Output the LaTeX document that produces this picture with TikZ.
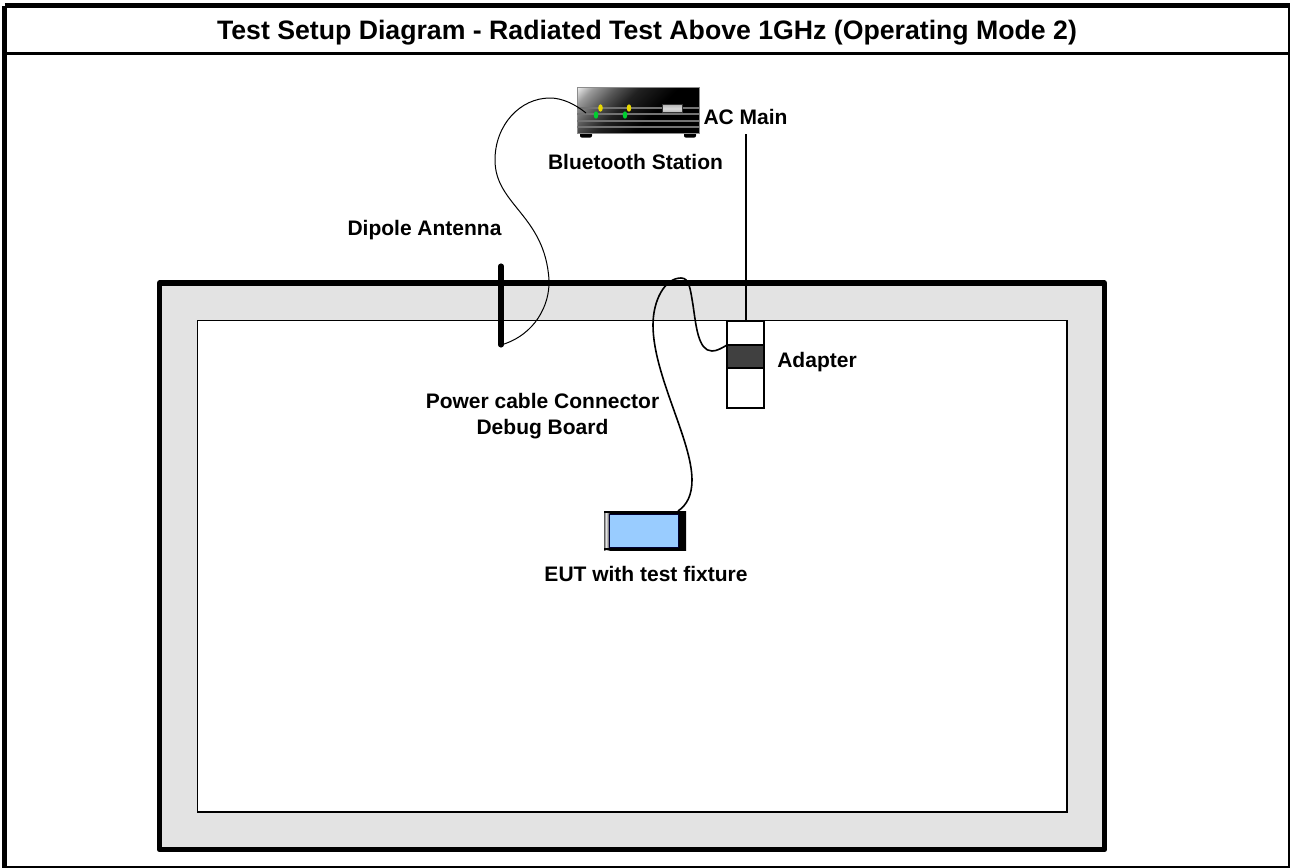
\documentclass[tikz,border=0pt]{standalone}
\usepackage{fontspec}
\setmainfont{Liberation Sans}
\usetikzlibrary{shapes.geometric}
\pgfdeclarehorizontalshading{stationsh}{100bp}{color(0bp)=(white); color(14bp)=(black!3); color(22bp)=(black!40); color(32bp)=(black!67); color(41.6bp)=(black!87); color(58bp)=(black); color(100bp)=(black)}
\pgfdeclarehorizontalshading{eutsh}{100bp}{color(0bp)=(black!65); color(25bp)=(black!65); color(26.2bp)=(black!10); color(27.2bp)=(black!35); color(28.5bp)=(black); color(100bp)=(black)}
\pgfdeclareverticalshading{btnsh}{100bp}{color(0bp)=(black!45); color(50bp)=(black!15); color(100bp)=(black!45)}
\definecolor{ledyellow}{HTML}{E8D800}
\definecolor{ledgreen}{HTML}{00D030}
\definecolor{screenblue}{HTML}{99CCFF}
\tikzset{
  lbl/.style={font=\fontsize{15.75pt}{18pt}\bfseries\selectfont, inner sep=0pt, anchor=base, text=black},
  ttl/.style={font=\fontsize{20pt}{24pt}\bfseries\selectfont, inner sep=0pt, anchor=base, text=black},
  box/.style={rectangle, inner sep=0pt, outer sep=0pt},
  thincable/.style={draw=black, line width=0.75pt},
  thickcable/.style={draw=black, line width=1.2pt},
  stripe/.style={draw=black!55, line width=0.9pt},
  led/.style={ellipse, inner sep=0pt, minimum width=3.4pt, minimum height=5.6pt}
}
\begin{document}
\begin{tikzpicture}[x=0.75pt,y=-0.75pt]
\useasboundingbox (0,0) rectangle (1290,868);
\fill[white] (0,0) rectangle (1290,868);
% page frame
\draw[line width=3.6pt] (4.5,5.5) -- (1291,5.5);
\draw[line width=3.6pt] (4.5,5.5) -- (4.5,869);
\draw[line width=1.6pt] (1289,5) -- (1289,867.2) -- (4,867.2);
\draw[line width=1.6pt] (5,53.5) -- (1289,53.5);
% room
\draw[fill=black!11, line width=4pt, line join=round] (159.5,283) rectangle (1104.5,849.5);
\draw[fill=white, line width=1.3pt] (197.5,320.5) rectangle (1067,812);
% adapter
\node[box, draw=black, fill=white, line width=1.3pt, minimum width=27.75pt, minimum height=65.25pt] (adapter) at (745.5,364.5) {};
\node[box, draw=black, fill=black!75, line width=1.1pt, minimum width=27.75pt, minimum height=17.25pt] (adcore) at (745.5,356.5) {};
% antenna
\node[box, minimum width=0pt, minimum height=59.25pt] (antenna) at (501,305.5) {};
\draw[line width=3.8pt, line cap=round] (antenna.north) -- (antenna.south);
% station
\node[box, fill=black, rounded corners=1.5pt, minimum width=9pt, minimum height=4pt] (footl) at (586,135) {};
\node[box, fill=black, rounded corners=1.5pt, minimum width=9pt, minimum height=4pt] (footr) at (690,135) {};
\node[box, shading=stationsh, shading angle=-45, draw=black!45, line width=0.3pt, minimum width=91.5pt, minimum height=34.5pt] (station) at (638,110) {};
\draw[stripe] (station.west |- 0,108) -- (station.east |- 0,108);
\draw[stripe] (station.west |- 0,114) -- (station.east |- 0,114);
\draw[stripe] (station.west |- 0,121) -- (station.east |- 0,121);
\draw[stripe] (station.west |- 0,127) -- (station.east |- 0,127);
\node[box, shading=btnsh, draw=black!80, line width=0.6pt, minimum width=15pt, minimum height=6.5pt] (button) at (672,108.5) {};
\node[led, fill=ledyellow] (ya) at (600.5,108) {};
\node[led, fill=ledyellow] (yb) at (629,108) {};
\node[led, fill=ledgreen] (ga) at (596,115) {};
\node[led, fill=ledgreen] (gb) at (625,115) {};
% EUT
\node[box, shading=eutsh, minimum width=61.5pt, minimum height=29.25pt] (eut) at (645,530.5) {};
\node[box, fill=black, minimum width=61.5pt, minimum height=2.2pt] (eutbottom) at (645,549) {};
\node[box, fill=black, minimum width=61.5pt, minimum height=2pt] (euttop) at (645,512) {};
\node[box, draw=black!80!blue, fill=screenblue, line width=0.5pt, minimum width=51.75pt, minimum height=24.75pt] (screen) at (643.5,530.5) {};
% connectors
\coordinate (stationport) at (586,113);
\coordinate (acfree) at (746,134);
\coordinate (eutport) at (678,511);
\draw[thincable] (stationport) .. controls (575,104) and (562,98) .. (550,98)
  .. controls (520,98) and (495,125) .. (495,160)
  .. controls (495,205) and (545,215) .. (549,280)
  .. controls (550,305) and (535,335) .. (antenna.south);
\draw[line width=1pt] (acfree) -- (acfree |- adapter.north);
\draw[thickcable] (adcore.north west) .. controls (722,348) and (717,351) .. (712,351)
  .. controls (698,351) and (696,325) .. (693,305)
  .. controls (690,287) and (689,278) .. (681,278)
  .. controls (665,278) and (653,300) .. (653,325)
  .. controls (653,375) and (692,440) .. (692,480)
  .. controls (692,495) and (687,505) .. (eutport);
% labels
\node[ttl] (title) at (647,39.5) {Test Setup Diagram - Radiated Test Above 1GHz (Operating Mode 2)};
\node[lbl] (acmain) at (745.5,124) {AC Main};
\node[lbl] (btlabel) at (635.5,169) {Bluetooth Station};
\node[lbl] (dipole) at (424.5,235) {Dipole Antenna};
\node[lbl] (adlabel) at (817,367) {Adapter};
\node[lbl] (pclabel) at (542.5,408) {Power cable Connector};
\node[lbl] (dblabel) at (542.5,434) {Debug Board};
\node[lbl] (eutlabel) at (646,581) {EUT with test fixture};
\end{tikzpicture}
\end{document}
